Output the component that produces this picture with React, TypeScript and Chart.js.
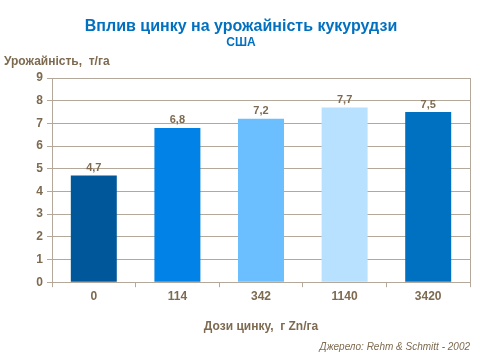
import React, { useEffect, useRef } from "react";
import { Chart, registerables } from "chart.js";

Chart.register(...registerables);

const categories = ["0", "114", "342", "1140", "3420"];
const yields = [4.7, 6.8, 7.2, 7.7, 7.5];
const valueLabels = ["4,7", "6,8", "7,2", "7,7", "7,5"];
const barColors = ["#00589b", "#0082e6", "#6bbfff", "#b8e0ff", "#0070c0"];

const titleText = "Вплив цинку на урожайність кукурудзи";
const subtitleText = "США";
const yTitleText = "Урожайність,  т/га";
const xTitleText = "Дози цинку,  г Zn/га";
const sourceText = "Джерело: Rehm & Schmitt - 2002";

const textColor = "#7d6a50";
const gridColor = "#b3a899";
const titleColor = "#0070c0";
const FONT = "Arial, 'Liberation Sans', sans-serif";

const textPlugin = {
  id: "texts",
  afterDraw(chart: any) {
    const ctx = chart.ctx;
    const area = chart.chartArea;
    ctx.save();
    // right border
    ctx.strokeStyle = gridColor;
    ctx.lineWidth = 1;
    ctx.beginPath();
    ctx.moveTo(Math.round(area.right) + 0.5, area.top);
    ctx.lineTo(Math.round(area.right) + 0.5, area.bottom);
    ctx.stroke();

    ctx.textAlign = "center";
    ctx.textBaseline = "middle";
    ctx.fillStyle = titleColor;
    ctx.font = `bold 16px ${FONT}`;
    ctx.fillText(titleText, 241, 27);
    ctx.font = `bold 12px ${FONT}`;
    ctx.fillText(subtitleText, 241, 43);

    ctx.fillStyle = textColor;
    ctx.textAlign = "left";
    ctx.font = `bold 12px ${FONT}`;
    ctx.fillText(yTitleText, 4, 62);

    ctx.textAlign = "right";
    ctx.font = `italic 10px ${FONT}`;
    ctx.fillText(sourceText, 470, 347);

    // value labels
    ctx.textAlign = "center";
    ctx.textBaseline = "bottom";
    ctx.font = `bold 11px ${FONT}`;
    const meta = chart.getDatasetMeta(0);
    meta.data.forEach((bar: any, i: number) => {
      ctx.fillText(valueLabels[i], bar.x, bar.y - 2);
    });
    ctx.restore();
  },
};

export default function App() {
  const ref = useRef<HTMLCanvasElement>(null);
  useEffect(() => {
    document.body.style.margin = "0";
    const chart = new Chart(ref.current!, {
      type: "bar",
      data: {
        labels: categories,
        datasets: [
          {
            data: yields,
            backgroundColor: barColors,
            categoryPercentage: 1,
            barPercentage: 0.55,
          },
        ],
      },
      options: {
        animation: false,
        responsive: false,
        maintainAspectRatio: false,
        layout: { padding: { left: 8, right: 10, top: 78, bottom: 26 } },
        plugins: { legend: { display: false }, tooltip: { enabled: false }, title: { display: false } },
        scales: {
          x: {
            grid: { display: true, drawOnChartArea: false, drawTicks: true, tickLength: 5, color: gridColor, offset: true },
            border: { display: true, color: gridColor },
            ticks: { color: textColor, font: { family: FONT, size: 12, weight: "bold" }, padding: 2 },
            title: { display: true, text: xTitleText, color: textColor, font: { family: FONT, size: 12, weight: "bold" }, padding: { top: 14, bottom: 0 } },
          },
          y: {
            min: 0,
            max: 9,
            ticks: { stepSize: 1, color: textColor, font: { family: FONT, size: 12, weight: "bold" }, padding: 4 },
            grid: { color: gridColor, tickLength: 5 },
            border: { display: true, color: gridColor },
            afterFit: (s: any) => { s.width = 44; },
          },
        },
      },
      plugins: [textPlugin],
    });
    return () => chart.destroy();
  }, []);
  return (
    <div style={{ position: "absolute", left: 0, top: 0, width: 480, height: 360 }}>
      <canvas ref={ref} width={480} height={360} style={{ width: 480, height: 360 }} />
    </div>
  );
}
